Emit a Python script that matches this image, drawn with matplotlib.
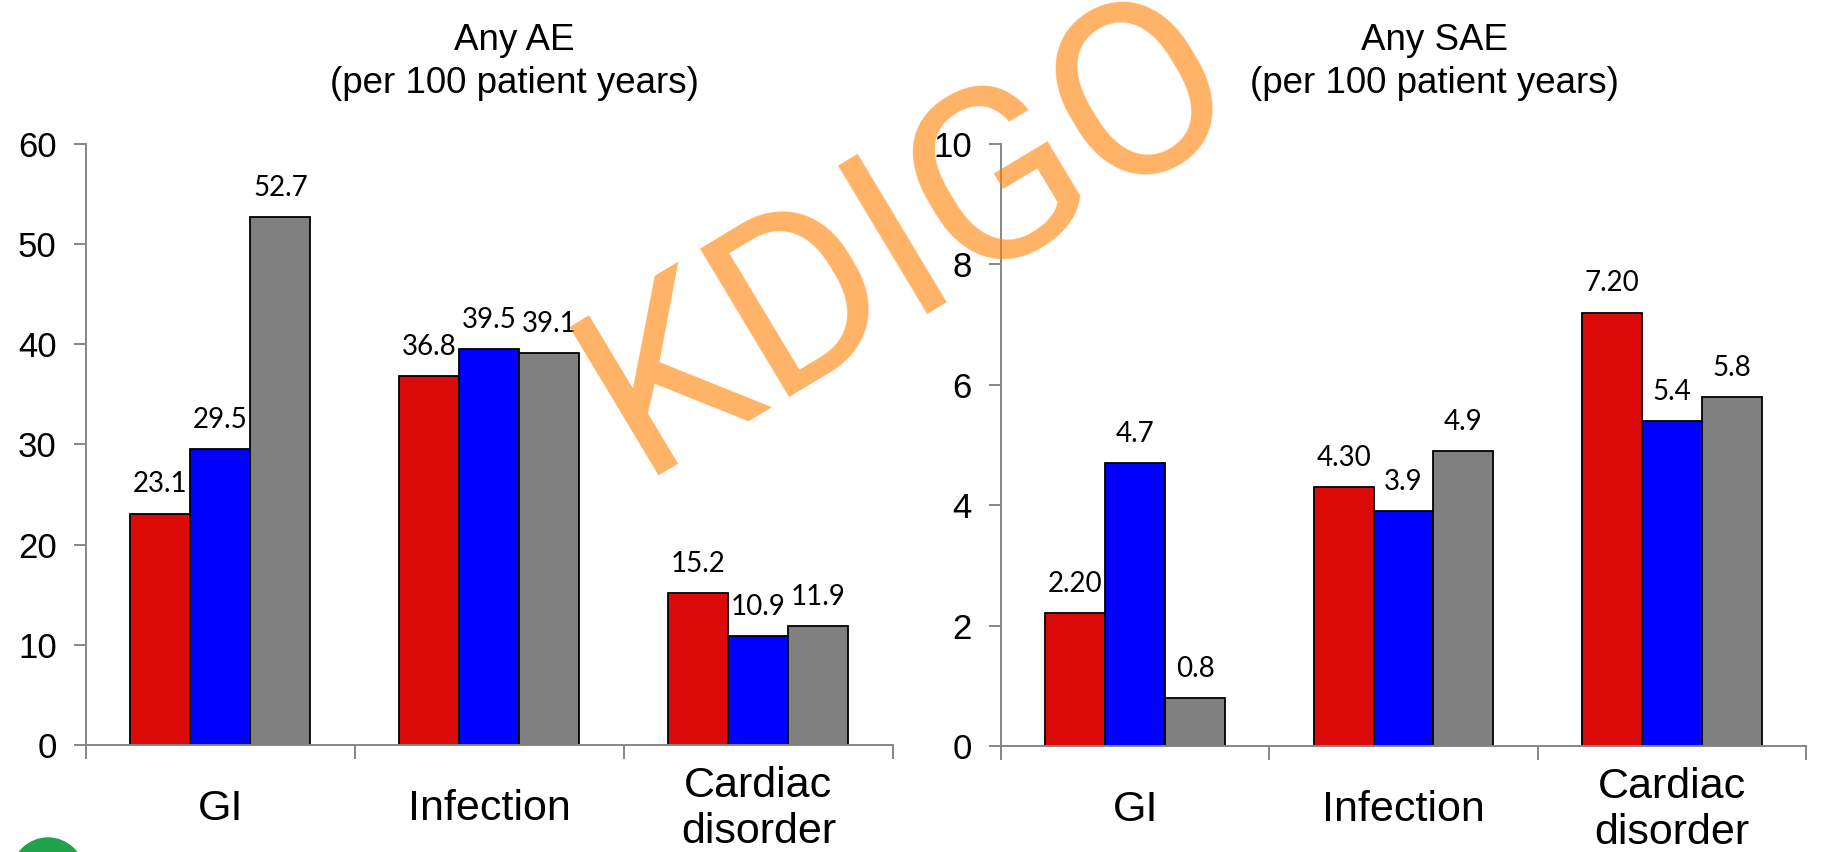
import numpy as np
import matplotlib.pyplot as plt
from matplotlib.patches import Ellipse

# data
categories = ['GI', 'Infection', 'Cardiac\ndisorder']
ae_red = [23.1, 36.8, 15.2]
ae_blue = [29.5, 39.5, 10.9]
ae_gray = [52.7, 39.1, 11.9]
ae_labels = [['23.1', '36.8', '15.2'], ['29.5', '39.5', '10.9'], ['52.7', '39.1', '11.9']]
sae_red = [2.20, 4.30, 7.20]
sae_blue = [4.7, 3.9, 5.4]
sae_gray = [0.8, 4.9, 5.8]
sae_labels = [['2.20', '4.30', '7.20'], ['4.7', '3.9', '5.4'], ['0.8', '4.9', '5.8']]

colors = ['#DD0A0A', '#0000FF', '#808080']
axis_gray = '#868686'

fig = plt.figure(figsize=(18.25, 8.52), dpi=100)
ax1 = fig.add_axes([0.0471, 0.1256, 0.4422, 0.7054])
ax2 = fig.add_axes([0.5485, 0.1245, 0.4411, 0.7065])


def draw(ax, series, labels, ymax, step):
    x = np.arange(len(categories))
    w = 0.223
    for i, vals in enumerate(series):
        pos = x + (i - 1) * w
        ax.bar(pos, vals, width=w, color=colors[i], edgecolor='black', linewidth=1.3, zorder=2)
        for p, v, t in zip(pos, vals, labels[i]):
            ax.annotate(t, (p, v), xytext=(0, 21), textcoords='offset points',
                        ha='center', va='center', fontsize=20, family='Lato', zorder=3)
    ax.set_xlim(-0.5, len(categories) - 0.5)
    ax.set_ylim(0, ymax)
    ax.set_yticks(np.arange(0, ymax + step / 2, step))
    ax.set_xticks(np.arange(len(categories) + 1) - 0.5)
    ax.set_xticklabels([])
    for xi, c in zip(x, categories):
        ax.text(xi, -0.106 * ymax, c, ha='center', va='center', fontsize=31,
                family='Liberation Sans', linespacing=1.2)
    for s in ['top', 'right']:
        ax.spines[s].set_visible(False)
    for s in ['left', 'bottom']:
        ax.spines[s].set_color(axis_gray)
        ax.spines[s].set_linewidth(1.4)
    ax.tick_params(axis='y', direction='out', length=9, width=1.4, color=axis_gray,
                   labelsize=25, pad=12)
    ax.tick_params(axis='x', direction='out', length=10, width=1.4, color=axis_gray)
    for lab in ax.get_yticklabels():
        lab.set_family('Liberation Sans')


draw(ax1, [ae_red, ae_blue, ae_gray], ae_labels, 60, 10)
draw(ax2, [sae_red, sae_blue, sae_gray], sae_labels, 10, 2)

fig.text(0.282, 0.927, 'Any AE\n(per 100 patient years)', ha='center', va='center',
         fontsize=26.5, family='Liberation Sans', linespacing=1.3)
fig.text(0.786, 0.927, 'Any SAE\n(per 100 patient years)', ha='center', va='center',
         fontsize=26.5, family='Liberation Sans', linespacing=1.3)

# watermark
fig.text(0.498, 0.724, 'KDIGO', ha='center', va='center', rotation=31,
         fontsize=175, family='Roboto', color='#FF8000', alpha=0.6, zorder=10)

# logo stub in the bottom-left corner
fig.patches.append(Ellipse((48 / 1825, 1 - 874 / 852), 72 / 1825, 72 / 852,
                           transform=fig.transFigure, color='#1FA24A', zorder=5))

fig.savefig('out.png', dpi=100)
